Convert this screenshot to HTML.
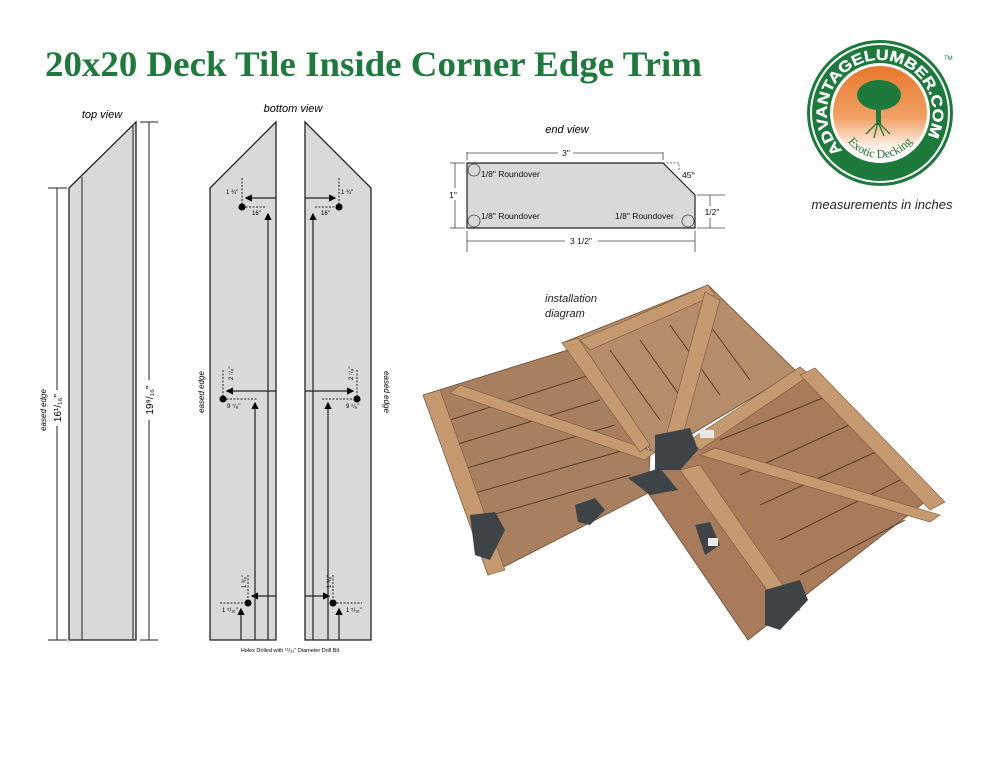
<!DOCTYPE html>
<html><head><meta charset="utf-8"><style>
html,body{margin:0;padding:0;background:#fff;}
svg{display:block;}
</style></head><body>
<svg width="1000" height="773" viewBox="0 0 1000 773" xmlns="http://www.w3.org/2000/svg" font-family="Liberation Sans, sans-serif">
<defs>
<linearGradient id="og" x1="0" y1="0" x2="0" y2="1"><stop offset="0" stop-color="#e8782e"/><stop offset="0.55" stop-color="#f0a064"/><stop offset="0.85" stop-color="#fdf0e6"/><stop offset="1" stop-color="#fff"/></linearGradient>
<marker id="ar" markerWidth="6" markerHeight="6" refX="5" refY="3" orient="auto"><path d="M0,0 L6,3 L0,6z" fill="#000"/></marker>
<path id="arcTop" d="M842.5,150.5 A53,53 0 1,1 926,139"/>
<path id="arcBot" d="M840,118 A40,40 0 0,0 920,118"/>
</defs>
<text x="45" y="76" font-family="Liberation Serif, serif" font-weight="bold" font-size="36" fill="#1d7a3c" textLength="657" lengthAdjust="spacingAndGlyphs">20x20 Deck Tile Inside Corner Edge Trim</text>

<!-- top view -->
<text x="102" y="118" font-size="11" font-style="italic" text-anchor="middle">top view</text>
<polygon points="69,188 136,122 136,640 69,640" fill="#d9d9d9" stroke="#222" stroke-width="1.3"/>
<line x1="82" y1="177" x2="82" y2="640" stroke="#222"/>
<line x1="133" y1="125" x2="133" y2="640" stroke="#222"/>
<line x1="57" y1="188" x2="57" y2="640" stroke="#222"/>
<line x1="48" y1="188" x2="67" y2="188" stroke="#222"/><line x1="48" y1="640" x2="67" y2="640" stroke="#222"/>
<line x1="149" y1="122" x2="149" y2="640" stroke="#222"/>
<line x1="140" y1="122" x2="158" y2="122" stroke="#222"/><line x1="140" y1="640" x2="158" y2="640" stroke="#222"/>
<rect x="52" y="390" width="10" height="36" fill="#fff"/>
<text transform="translate(61,408) rotate(-90)" font-size="10" text-anchor="middle">16¹/₁₆"</text>
<text transform="translate(46,410) rotate(-90)" font-size="8" font-style="italic" text-anchor="middle">eased edge</text>
<rect x="144" y="380" width="10" height="40" fill="#fff"/>
<text transform="translate(153,400) rotate(-90)" font-size="10" text-anchor="middle">19⁹/₁₆"</text>

<!-- bottom view -->
<text x="293" y="112" font-size="11" font-style="italic" text-anchor="middle">bottom view</text>
<polygon points="210,188 276,122 276,640 210,640" fill="#d9d9d9" stroke="#222" stroke-width="1.3"/>
<polygon points="305,122 371,188 371,640 305,640" fill="#d9d9d9" stroke="#222" stroke-width="1.3"/>
<g stroke="#222" stroke-width="1.2" fill="none">
<line x1="276" y1="198" x2="246" y2="198" marker-end="url(#ar)"/>
<line x1="276" y1="391" x2="227" y2="391" marker-end="url(#ar)"/>
<line x1="276" y1="596" x2="252" y2="596" marker-end="url(#ar)"/>
<line x1="268" y1="640" x2="268" y2="214" marker-end="url(#ar)"/>
<line x1="255" y1="640" x2="255" y2="403" marker-end="url(#ar)"/>
<line x1="241" y1="640" x2="241" y2="609" marker-end="url(#ar)"/>
<line x1="305" y1="198" x2="335" y2="198" marker-end="url(#ar)"/>
<line x1="305" y1="391" x2="353" y2="391" marker-end="url(#ar)"/>
<line x1="305" y1="596" x2="329" y2="596" marker-end="url(#ar)"/>
<line x1="313" y1="640" x2="313" y2="214" marker-end="url(#ar)"/>
<line x1="328" y1="640" x2="328" y2="403" marker-end="url(#ar)"/>
<line x1="339" y1="640" x2="339" y2="609" marker-end="url(#ar)"/>
</g>
<g stroke="#222" stroke-width="1" stroke-dasharray="2,1.5">
<line x1="242" y1="178" x2="242" y2="207"/><line x1="242" y1="207" x2="266" y2="207"/>
<line x1="339" y1="178" x2="339" y2="207"/><line x1="315" y1="207" x2="339" y2="207"/>
<line x1="223" y1="370" x2="223" y2="399"/><line x1="223" y1="399" x2="258" y2="399"/>
<line x1="357" y1="370" x2="357" y2="399"/><line x1="322" y1="399" x2="357" y2="399"/>
<line x1="248" y1="575" x2="248" y2="603"/><line x1="220" y1="603" x2="248" y2="603"/>
<line x1="333" y1="575" x2="333" y2="603"/><line x1="333" y1="603" x2="362" y2="603"/>
</g>
<g fill="#000"><circle cx="242" cy="207" r="3.5"/><circle cx="339" cy="207" r="3.5"/><circle cx="223" cy="399" r="3.5"/><circle cx="357" cy="399" r="3.5"/><circle cx="248" cy="603" r="3.5"/><circle cx="333" cy="603" r="3.5"/></g>
<g font-size="6" font-family="Liberation Sans Narrow, Liberation Sans, sans-serif">
<text x="226" y="194">1 ¾"</text><text x="341" y="194">1 ¾"</text>
<text x="252" y="215">16"</text><text x="321" y="215">16"</text>
<text x="227" y="408">9 ⁷/₈"</text><text x="346" y="408">9 ⁷/₈"</text>
<text x="222" y="612">1 ⁵/₁₆"</text><text x="346" y="612">1 ⁵/₁₆"</text>
<text transform="translate(233,380) rotate(-90)">2 ⁷/₈"</text>
<text transform="translate(353,380) rotate(-90)">2 ⁷/₈"</text>
<text transform="translate(246,588) rotate(-90)">1 ³/₈"</text>
<text transform="translate(331,588) rotate(-90)">1 ³/₈"</text>
<text x="290" y="652" text-anchor="middle" font-size="5.5">Holes Drilled with ¹¹/₃₂" Diameter Drill Bit</text>
</g>
<text transform="translate(204,392) rotate(-90)" font-size="8" font-style="italic" text-anchor="middle">eased edge</text>
<text transform="translate(384,392) rotate(90)" font-size="8" font-style="italic" text-anchor="middle">eased edge</text>

<!-- end view -->
<text x="567" y="133" font-size="11" font-style="italic" text-anchor="middle">end view</text>
<polygon points="467,163 663,163 695,195 695,228 467,228" fill="#d9d9d9" stroke="#222" stroke-width="1.2"/>
<g fill="none" stroke="#444" stroke-width="0.8">
<circle cx="474" cy="170" r="6"/><circle cx="474" cy="221" r="6"/><circle cx="688" cy="221" r="6"/>
<line x1="467" y1="152" x2="467" y2="160"/><line x1="663" y1="152" x2="663" y2="160"/>
<line x1="467" y1="153" x2="558" y2="153"/><line x1="573" y1="153" x2="663" y2="153"/>
<line x1="467" y1="231" x2="467" y2="252"/><line x1="695" y1="231" x2="695" y2="252"/>
<line x1="467" y1="241" x2="565" y2="241"/><line x1="598" y1="241" x2="695" y2="241"/>
<line x1="450" y1="163" x2="465" y2="163"/><line x1="450" y1="228" x2="465" y2="228"/>
<line x1="455" y1="163" x2="455" y2="188"/><line x1="455" y1="200" x2="455" y2="228"/>
<line x1="697" y1="195" x2="725" y2="195"/><line x1="697" y1="228" x2="725" y2="228"/>
<line x1="710" y1="195" x2="710" y2="206"/><line x1="710" y1="218" x2="710" y2="228"/>
<path d="M663,163 L679,163 L679,171" stroke-dasharray="2,1.5"/>
</g>
<g font-size="8.5" fill="#111">
<text x="566" y="156" text-anchor="middle">3"</text>
<text x="581" y="244" text-anchor="middle">3 1/2"</text>
<text x="453" y="198" text-anchor="middle">1"</text>
<text x="712" y="215" text-anchor="middle">1/2"</text>
<text x="682" y="178">45°</text>
<text x="481" y="177">1/8" Roundover</text>
<text x="481" y="219">1/8" Roundover</text>
<text x="615" y="219">1/8" Roundover</text>
</g>

<!-- logo -->
<circle cx="880" cy="113" r="73" fill="#1d7a3c"/>
<circle cx="880" cy="113" r="70" fill="#fff"/>
<circle cx="880" cy="113" r="68" fill="#1d7a3c"/>
<circle cx="880" cy="113" r="50" fill="#fff"/>
<circle cx="880" cy="113" r="47" fill="url(#og)"/>
<text font-size="15" font-weight="bold" fill="#fff" font-family="Liberation Sans, sans-serif" stroke="#fff" stroke-width="0.3"><textPath href="#arcTop" textLength="232" lengthAdjust="spacingAndGlyphs">ADVANTAGELUMBER.COM</textPath></text>
<text font-size="12" fill="#1d7a3c" font-family="Liberation Serif, serif"><textPath href="#arcBot" startOffset="50%" text-anchor="middle">Exotic Decking</textPath></text>
<ellipse cx="879" cy="95" rx="22" ry="15" fill="#1d7a3c"/>
<rect x="876" y="103" width="5" height="22" fill="#1d7a3c"/>
<path d="M878,122 l-12,12 M878,122 l12,12 M878,122 l-4,16 M878,122 l6,14" stroke="#1d7a3c" stroke-width="1.3" fill="none"/>
<text x="944" y="60" font-size="6" fill="#1d7a3c">TM</text>
<text x="882" y="209" font-size="13" font-style="italic" text-anchor="middle" fill="#222">measurements in inches</text>

<!-- installation -->
<text x="545" y="302" font-size="11" font-style="italic" fill="#222">installation</text>
<text x="545" y="317" font-size="11" font-style="italic" fill="#222">diagram</text>
<g stroke="#6b4a33" stroke-width="0.8">
<polygon points="423,395 600,340 650,455 648,493 488,575" fill="#a9805f"/>
<polygon points="562,343 708,285 798,373 782,380 665,450 653,453" fill="#b58d6a"/>
<polygon points="782,380 800,367 925,502 748,640 648,493 660,460 700,440" fill="#a87c5a"/>
</g>
<g stroke="#5a3d27" stroke-width="1">
<line x1="450" y1="420" x2="590" y2="375"/><line x1="455" y1="445" x2="600" y2="400"/><line x1="460" y1="470" x2="615" y2="425"/><line x1="468" y1="495" x2="625" y2="450"/><line x1="475" y1="520" x2="630" y2="475"/>
<line x1="610" y1="350" x2="660" y2="420"/><line x1="640" y1="340" x2="690" y2="410"/><line x1="670" y1="325" x2="720" y2="395"/><line x1="700" y1="312" x2="750" y2="380"/>
<line x1="720" y1="440" x2="830" y2="395"/><line x1="740" y1="475" x2="860" y2="420"/><line x1="760" y1="505" x2="880" y2="450"/><line x1="780" y1="540" x2="900" y2="480"/><line x1="800" y1="575" x2="905" y2="520"/>
</g>
<g fill="#c59a70" stroke="#7a5638" stroke-width="0.6">
<polygon points="423,395 440,390 505,570 488,575"/>
<polygon points="450,393 460,385 655,452 645,460"/>
<polygon points="562,343 578,338 650,445 640,452"/>
<polygon points="580,340 708,285 715,295 590,350"/>
<polygon points="705,292 720,300 680,445 665,440"/>
<polygon points="690,440 800,367 810,375 700,450"/>
<polygon points="800,375 815,368 945,502 930,510"/>
<polygon points="700,455 715,448 940,515 930,522"/>
<polygon points="680,470 700,465 800,610 785,615"/>
</g>
<g fill="#3d4347">
<polygon points="655,435 690,428 698,450 680,470 655,470"/>
<polygon points="470,515 495,512 505,530 490,560 475,555"/>
<polygon points="575,505 595,498 605,510 590,525 578,522"/>
<polygon points="628,478 660,468 678,490 650,495"/>
<polygon points="695,525 710,522 720,545 705,555"/>
<polygon points="765,590 800,580 808,600 780,630 765,625"/>
</g>
<rect x="700" y="430" width="14" height="8" fill="#e8e8e8"/>
<rect x="708" y="538" width="10" height="8" fill="#e8e8e8"/>
</svg>
</body></html>
